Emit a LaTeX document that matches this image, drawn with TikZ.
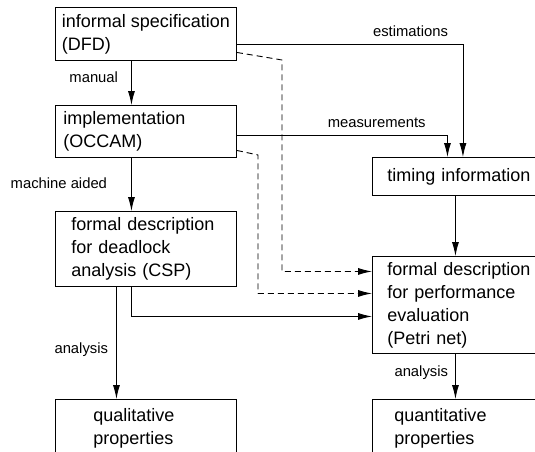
\documentclass[tikz,border=0pt]{standalone}
\usepackage{fontspec}
\setmainfont{Liberation Sans}
\usetikzlibrary{arrows.meta}
\usetikzlibrary{positioning}

\begin{document}
\begin{tikzpicture}[x=1pt,y=1pt,
  box/.style={draw,line width=0.9pt,anchor=north west,align=left,inner xsep=0pt,inner ysep=0pt,minimum width=181pt,font=\fontsize{18}{23}\selectfont},
  lbl/.style={font=\fontsize{14.8}{17}\selectfont,inner sep=2pt},
  flow/.style={line width=0.9pt,-{Latex[length=14pt,width=7pt]}},
  hint/.style={flow,dash pattern=on 6pt off 4pt}]
\useasboundingbox (0,0) rectangle (535,451);
\clip (0,0) rectangle (535,451);
% left column
\node[box,minimum height=53pt] (spec) at (55,444) {informal specification\\(DFD)};
\node[box,minimum height=52pt,text width=165pt] (impl) at (55,346) {implementation\\(OCCAM)};
\node[box,minimum height=75pt,text width=149pt] (csp) at (55,240) {formal description\\for deadlock\\analysis (CSP)};
\node[box,minimum height=58pt,text width=105pt] (qual) at (55,52) {qualitative\\properties};
% right column
\node[box,minimum height=38pt,text width=151pt] (timing) at (372,294) {timing information};
\node[box,minimum height=97pt,text width=151pt] (perf) at (372,195) {formal description\\for performance\\evaluation\\(Petri net)};
\node[box,minimum height=58pt,text width=137pt] (quant) at (372,52) {quantitative\\properties};
\coordinate (bend1) at (282,391);
\coordinate (bend2) at (258,296);

\draw[flow] ([xshift=-14.5pt]spec.south) -- node[lbl,pos=0.38,left=11pt] (manual) {manual} ([xshift=-14.5pt]impl.north);
\draw[flow] ([xshift=-14.5pt]impl.south) -- node[lbl,pos=0.48,left=22pt] (aided) {machine aided} ([xshift=-14.5pt]csp.north);
\draw[flow] ([xshift=-29.5pt]csp.south) -- node[lbl,pos=0.56,left=6pt] (ana1) {analysis} ([xshift=-29.5pt]qual.north);
\draw[flow] ([xshift=-14.5pt]csp.south) |- ([yshift=-11.5pt]perf.west);
\draw[flow] ([yshift=-10.5pt]spec.east) -| node[lbl,pos=0.384,above=5pt] (estim) {estimations} (timing.north);
\draw[flow] ([yshift=-4pt]impl.east) -| node[lbl,pos=0.332,above=5pt] (meas) {measurements} ([xshift=-15.5pt]timing.north);
\draw[flow] ([xshift=-7.5pt]timing.south) -- ([xshift=-7.5pt]perf.north);
\draw[flow] ([xshift=-7.5pt]perf.south) -- node[lbl,pos=0.41,left=5pt] (ana2) {analysis} ([xshift=-7.5pt]quant.north);
% dashed links
\draw[hint] ([yshift=-18.5pt]spec.east) -- (bend1) |- ([yshift=33.5pt]perf.west);
\draw[hint] ([yshift=-19pt]impl.east) -- (bend2) |- ([yshift=11.5pt]perf.west);

\end{tikzpicture}
\end{document}
